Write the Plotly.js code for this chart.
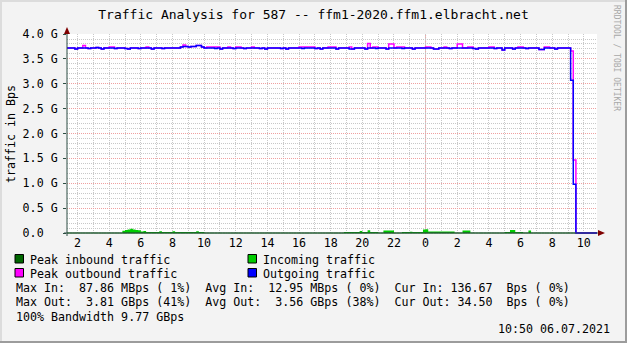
<!DOCTYPE html>
<html><head><meta charset="utf-8">
<script src="https://cdn.plot.ly/plotly-3.0.1.min.js"></script>
<style>html,body{margin:0;padding:0;background:#f3f3f3;} #chart{width:627px;height:343px;}</style>
</head><body><div id="chart"></div>
<script>
// time grid: 10-minute samples starting 2021-07-05 01:20
const startUTC = Date.UTC(2021, 6, 5, 1, 20);
const stepMinutes = 10;
const rangeStart = '2021-07-05 01:20';
const rangeEnd = '2021-07-06 10:50';

// Outgoing traffic (average), in 0.01 GBps
const outgoing = [
372,372,372,370,372,372,372,372,371,372,
372,373,372,370,372,372,372,372,371,372,
372,372,371,370,372,372,372,371,372,372,
372,372,370,372,372,372,371,372,372,372,
372,372,372,374,375,375,374,375,375,377,
377,374,372,372,372,372,371,372,370,372,
372,372,372,371,372,372,372,371,372,372,
372,372,372,371,372,370,372,372,372,372,
372,371,372,370,372,372,372,372,372,371,
372,372,372,372,371,372,370,372,372,372,
372,372,370,372,372,372,372,370,370,372,
372,372,372,370,372,372,372,371,372,372,
372,370,372,372,372,372,372,371,372,372,
372,370,372,372,372,372,372,372,372,370,
370,372,372,372,372,371,372,372,372,372,
372,372,372,372,371,370,372,372,372,372,
372,372,371,372,372,368,372,372,372,370,
372,372,372,372,371,372,372,372,372,369,
369,372,372,372,372,370,372,372,372,372,
372,307,98,0,0,0,0,0,0,0,
0,0
];

// Peak outbound traffic, in 0.01 GBps
const peakOut = [
372,372,372,370,372,372,377,372,371,372,
372,373,372,370,372,372,374,374,371,372,
372,372,371,370,372,372,372,371,372,372,
374,372,370,372,372,372,371,372,372,372,
372,372,372,374,378,375,374,375,375,377,
377,374,372,374,374,374,374,374,370,372,
372,374,372,371,374,374,372,371,372,372,
374,372,372,371,372,370,372,372,372,372,
372,371,372,370,372,372,372,372,374,374,
374,374,374,374,371,372,370,372,372,374,
374,374,370,372,372,372,372,374,370,372,
372,372,372,370,381,372,374,374,372,372,
372,370,380,380,372,374,374,374,372,372,
372,370,372,372,372,372,374,374,372,370,
370,372,372,374,372,371,372,372,380,380,
372,372,374,374,371,370,372,372,372,372,
374,374,371,372,372,368,372,372,372,370,
372,374,374,372,371,372,372,372,372,369,
369,374,374,372,372,370,372,372,372,372,
372,366,147,0,0,0,0,0,0,0,
0,0
];

// Incoming traffic, in MBps
const incoming = [
0,0,0,0,0,0,0,0,0,0,
0,0,0,0,0,0,0,0,0,0,
0,45,60,72,88,70,62,55,30,40,
22,20,20,22,20,35,20,20,20,22,
35,20,20,20,22,20,20,20,20,35,
20,20,0,0,0,0,0,0,0,0,
0,0,0,0,0,0,0,0,0,0,
0,0,0,0,0,0,0,0,0,0,
0,0,0,0,0,0,0,0,0,0,
0,0,0,0,0,0,0,0,0,0,
0,0,0,0,0,20,20,20,20,20,
20,40,20,20,55,20,20,20,0,0,
50,50,50,50,0,0,0,20,20,20,
25,20,20,20,20,70,75,30,30,30,
30,30,30,30,30,30,30,0,0,0,
50,50,50,0,0,0,0,0,0,0,
0,0,0,0,0,0,20,20,60,60,
20,20,20,0,0,50,0,0,0,0,
0,0,0,0,0,0,0,0,0,0,
0,0,0,0,0,0,0,0,0,0,
0,0
];

// Peak inbound traffic line as drawn (sits on the zero line), in MBps
const peakIn = [
0,0,0,0,0,0,0,0,0,0, 0,0,0,0,0,0,0,0,0,0,
0,0,0,0,0,0,0,0,0,0, 0,0,0,0,0,0,0,0,0,0,
0,0,0,0,0,0,0,0,0,0, 0,0,0,0,0,0,0,0,0,0,
0,0,0,0,0,0,0,0,0,0, 0,0,0,0,0,0,0,0,0,0,
0,0,0,0,0,0,0,0,0,0, 0,0,0,0,0,0,0,0,0,0,
0,0,0,0,0,0,0,0,0,0, 0,0,0,0,0,0,0,0,0,0,
0,0,0,0,0,0,0,0,0,0, 0,0,0,0,0,0,0,0,0,0,
0,0,0,0,0,0,0,0,0,0, 0,0,0,0,0,0,0,0,0,0,
0,0,0,0,0,0,0,0,0,0, 0,0,0,0,0,0,0,0,0,0,
0,0,0,0,0,0,0,0,0,0, 0,0,0,0,0,0,0,0,0,0,
0,0
];

const hourTicks = ['2021-07-05 02:00','2021-07-05 04:00','2021-07-05 06:00','2021-07-05 08:00','2021-07-05 10:00','2021-07-05 12:00','2021-07-05 14:00','2021-07-05 16:00','2021-07-05 18:00','2021-07-05 20:00','2021-07-05 22:00','2021-07-06 00:00','2021-07-06 02:00','2021-07-06 04:00','2021-07-06 06:00','2021-07-06 08:00','2021-07-06 10:00'];
const hourLabels = ['2','4','6','8','10','12','14','16','18','20','22','0','2','4','6','8','10'];
const midnight = '2021-07-06 00:00';

const yTickVals = [0, 0.5, 1.0, 1.5, 2.0, 2.5, 3.0, 3.5, 4.0];
const yTickText = ['0.0\u00a0\u00a0', '0.5 G', '1.0 G', '1.5 G', '2.0 G', '2.5 G', '3.0 G', '3.5 G', '4.0 G'];

const legendItems = [
  {label: 'Peak inbound traffic', color: '#006600', col: 0, row: 0},
  {label: 'Incoming traffic', color: '#00cc00', col: 1, row: 0},
  {label: 'Peak outbound traffic', color: '#ff00ff', col: 0, row: 1},
  {label: 'Outgoing traffic', color: '#0000ff', col: 1, row: 1}
];
const statLines = [
  'Max In:  87.86 MBps ( 1%)  Avg In:  12.95 MBps ( 0%)  Cur In: 136.67  Bps ( 0%)',
  'Max Out:  3.81 GBps (41%)  Avg Out:  3.56 GBps (38%)  Cur Out: 34.50  Bps ( 0%)',
  '100% Bandwidth 9.77 GBps'
];
const timestamp = '10:50 06.07.2021';
const chartTitle = 'Traffic Analysis for 587 -- ffm1-2020.ffm1.elbracht.net';

// ---------- build ----------
const times = outgoing.map((_, i) => new Date(startUTC + i * stepMinutes * 60000).toISOString().slice(0, 16).replace('T', ' '));

const W = 627, H = 343;
const PL = 67, PR = 597, PT = 34, PB = 234;
const px = x => (x - PL) / (PR - PL);
const py = y => (PB - y) / (PB - PT);
const mono = 'DejaVu Sans Mono';
const FS = 11.65;
const nb = s => s.replace(/ /g, '\u00a0');

const traces = [
  {x: times, y: incoming.map(v => v / 1000), mode: 'lines', line: {shape: 'hv', width: 0, color: '#00cc00'}, fill: 'tozeroy', fillcolor: '#00cc00', hoverinfo: 'skip'},
  {x: times, y: peakIn.map(v => v / 1000), mode: 'lines', line: {shape: 'hv', width: 1, color: '#006600'}, hoverinfo: 'skip'},
  {x: times, y: peakOut.map(v => v / 100), mode: 'lines', line: {shape: 'hv', width: 1.5, color: '#ff00ff'}, hoverinfo: 'skip'},
  {x: times, y: outgoing.map(v => v / 100), mode: 'lines', line: {shape: 'hv', width: 1.5, color: '#0000ff'}, hoverinfo: 'skip'}
];

const shapes = [
  // midnight major grid line
  {type: 'line', xref: 'x', yref: 'paper', x0: midnight, x1: midnight, y0: 0, y1: 1, layer: 'below', line: {color: '#f0a0a0', width: 1, dash: '1px,1px'}},
  // axes
  {type: 'line', xref: 'paper', yref: 'paper', x0: px(67), x1: px(67), y0: py(236), y1: py(31), line: {color: '#2c4d43', width: 1}},
  {type: 'line', xref: 'paper', yref: 'paper', x0: px(64), x1: px(600), y0: py(233), y1: py(233), line: {color: '#2c4d43', width: 1}},
  // arrows
  {type: 'path', xref: 'paper', yref: 'paper', path: `M ${px(64)} ${py(34)} L ${px(67)} ${py(27)} L ${px(70)} ${py(34)} Z`, fillcolor: '#7f0000', line: {width: 0}},
  {type: 'path', xref: 'paper', yref: 'paper', path: `M ${px(598)} ${py(230)} L ${px(605)} ${py(233)} L ${px(598)} ${py(236)} Z`, fillcolor: '#7f0000', line: {width: 0}},
  // 3d frame
  {type: 'rect', xref: 'paper', yref: 'paper', x0: px(0), x1: px(627), y0: py(0), y1: py(2), fillcolor: '#dcdcdc', line: {width: 0}},
  {type: 'rect', xref: 'paper', yref: 'paper', x0: px(0), x1: px(2), y0: py(0), y1: py(343), fillcolor: '#dcdcdc', line: {width: 0}},
  {type: 'rect', xref: 'paper', yref: 'paper', x0: px(625), x1: px(627), y0: py(0), y1: py(343), fillcolor: '#9c9c9c', line: {width: 0}},
  {type: 'rect', xref: 'paper', yref: 'paper', x0: px(0), x1: px(627), y0: py(341), y1: py(343), fillcolor: '#9c9c9c', line: {width: 0}}
];

const annotations = [
  {xref: 'paper', yref: 'paper', x: px(617), y: py(58), text: 'RRDTOOL / TOBI OETIKER', textangle: 90, showarrow: false, font: {family: mono, size: 8, color: '#a8a8a8'}, xanchor: 'center', yanchor: 'middle'}
];

legendItems.forEach(it => {
  const sx = it.col === 0 ? 15 : 248;
  const sy = it.row === 0 ? 254.5 : 268.5;
  shapes.push({type: 'rect', xref: 'paper', yref: 'paper', x0: px(sx), x1: px(sx + 8.5), y0: py(sy), y1: py(sy + 8.5), fillcolor: it.color, line: {color: '#000000', width: 1}});
  annotations.push({xref: 'paper', yref: 'paper', x: px(sx + 14), y: py(sy + 5), text: nb(it.label), showarrow: false, xanchor: 'left', yanchor: 'middle', borderpad: 0, font: {family: mono, size: FS, color: '#000'}});
});
statLines.forEach((s, k) => {
  annotations.push({xref: 'paper', yref: 'paper', x: px(15), y: py(288 + k * 14.3), text: nb(s), showarrow: false, xanchor: 'left', yanchor: 'middle', borderpad: 0, font: {family: mono, size: FS, color: '#000'}});
});
annotations.push({xref: 'paper', yref: 'paper', x: px(611), y: py(328.5), text: nb(timestamp), showarrow: false, xanchor: 'right', yanchor: 'middle', borderpad: 0, font: {family: mono, size: FS, color: '#000'}});

const layout = {
  width: W, height: H,
  margin: {l: PL, r: W - PR, t: PT, b: H - PB, pad: 0},
  paper_bgcolor: '#f3f3f3', plot_bgcolor: '#ffffff',
  showlegend: false,
  title: {text: chartTitle, font: {family: mono, size: 13, color: '#000'}, x: 0.5, xref: 'container', y: 1 - 14.5 / H, yref: 'container', yanchor: 'middle'},
  xaxis: {
    type: 'date', range: [rangeStart, rangeEnd],
    tickmode: 'array', tickvals: hourTicks, ticktext: hourLabels,
    ticks: '', ticklen: 0,
    showgrid: true, gridcolor: '#c8c8c8', griddash: '1px,1px', gridwidth: 1,
    minor: {dtick: 3600000, tick0: '2021-07-05 00:00', showgrid: true, gridcolor: '#c8c8c8', griddash: '1px,1px', ticks: ''},
    zeroline: false, showline: false,
    tickfont: {family: mono, size: FS, color: '#000'}
  },
  yaxis: {
    range: [-0.02, 4.0005],
    tickmode: 'array', tickvals: yTickVals, ticktext: yTickText,
    ticks: 'outside', ticklen: 3, tickcolor: '#2c4d43', ticklabelstandoff: 3,
    showgrid: true, gridcolor: '#f0a0a0', griddash: '1px,1px', gridwidth: 1,
    minor: {dtick: 0.1, tick0: 0, showgrid: true, gridcolor: '#c8c8c8', griddash: '1px,1px', ticks: ''},
    zeroline: false, showline: false,
    tickfont: {family: mono, size: FS, color: '#000'},
    title: {text: 'traffic in Bps', font: {family: mono, size: FS, color: '#000'}, standoff: 4}
  },
  shapes: shapes,
  annotations: annotations
};

Plotly.newPlot('chart', traces, layout, {staticPlot: true, displayModeBar: false});
</script>
</body></html>
